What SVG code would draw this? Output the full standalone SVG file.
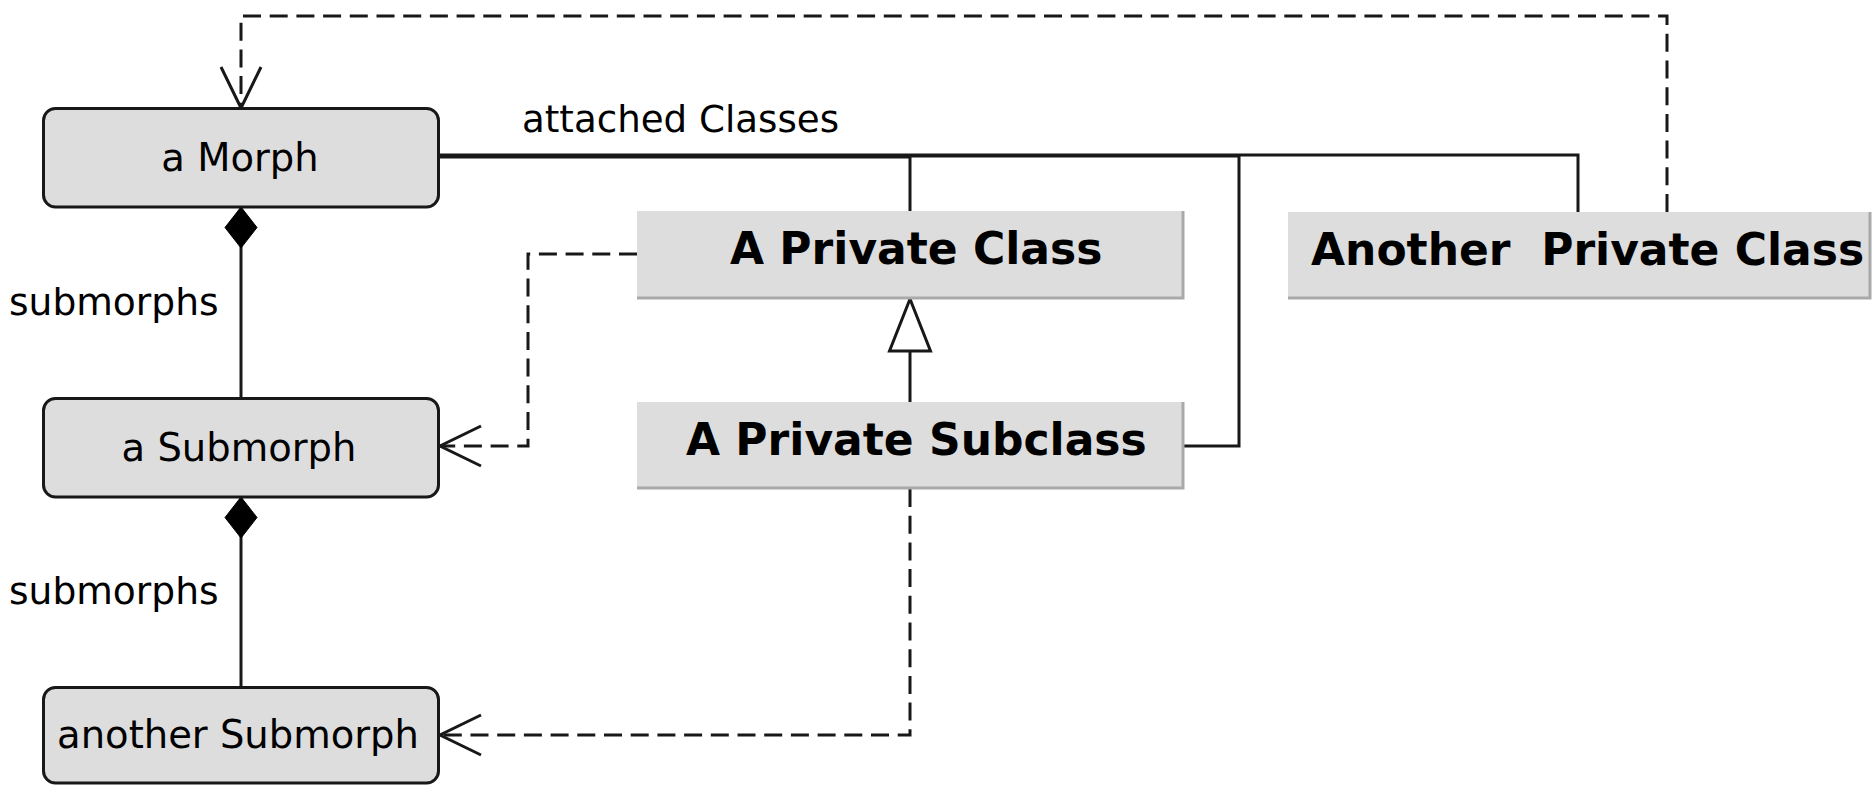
<svg xmlns="http://www.w3.org/2000/svg" width="1872" height="785" viewBox="0 0 1872 785">
  <style>
    .morph { fill: #dddddd; stroke: #181818; stroke-width: 3; }
    .cls { fill: #dddddd; }
    .shadow { fill: none; stroke: #a9a9a9; stroke-width: 3; }
    .lbl { font-family: "DejaVu Sans", "Liberation Sans", sans-serif; font-size: 38.5px; fill: #000000; }
    .edge { font-family: "DejaVu Sans", "Liberation Sans", sans-serif; font-size: 37.6px; fill: #000000; }
    .name { font-family: "DejaVu Sans", "Liberation Sans", sans-serif; font-size: 44px; font-weight: bold; fill: #000000; white-space: pre; }
    .solid { fill: none; stroke: #181818; stroke-width: 3; }
    .dashed { fill: none; stroke: #181818; stroke-width: 3; stroke-dasharray: 18 8.7; }
  </style>
  <defs>
    <marker id="open" viewBox="-46 -24 50 48" refX="0" refY="0" markerWidth="50" markerHeight="48" markerUnits="userSpaceOnUse" orient="auto">
      <path d="M-41,-20 L0,0 L-41,20" fill="none" stroke="#181818" stroke-width="3" stroke-dasharray="none"/>
    </marker>
    <marker id="diamond" viewBox="-3 -19 47 38" refX="0" refY="0" markerWidth="47" markerHeight="38" markerUnits="userSpaceOnUse" orient="auto">
      <path d="M0,0 L20.5,-16 L41,0 L20.5,16 Z" fill="#000000" stroke="#000000" stroke-width="1"/>
    </marker>
    <marker id="triangle" viewBox="-56 -24 60 48" refX="0" refY="0" markerWidth="60" markerHeight="48" markerUnits="userSpaceOnUse" orient="auto">
      <path d="M0,0 L-52,-20.5 L-52,20.5 Z" fill="#ffffff" stroke="#181818" stroke-width="3" stroke-linejoin="miter"/>
    </marker>
  </defs>

  <!-- connectors -->
  <g id="connectors">
    <!-- attached classes from a Morph -->
    <path class="solid" d="M438,157 H910 V212"/>
    <path class="solid" d="M438,156 H1239 V446 H1184"/>
    <path class="solid" d="M438,155 H1578 V212"/>
    <!-- submorph compositions -->
    <path class="solid" d="M241,207 V398" marker-start="url(#diamond)"/>
    <path class="solid" d="M241,497 V687" marker-start="url(#diamond)"/>
    <!-- generalization -->
    <path class="solid" d="M910,403 V299" marker-end="url(#triangle)"/>
    <!-- dependencies -->
    <path class="dashed" d="M1667,212 V16 H241 V108" marker-end="url(#open)"/>
    <path class="dashed" d="M637,254 H528 V446 H440" marker-end="url(#open)"/>
    <path class="dashed" d="M910,489 V735 H440" marker-end="url(#open)"/>
  </g>

  <text class="edge" x="522" y="132" textLength="317" lengthAdjust="spacingAndGlyphs">attached Classes</text>
  <text class="edge" x="9" y="315">submorphs</text>
  <text class="edge" x="9" y="604">submorphs</text>

  <g id="a-morph">
    <rect class="morph" x="43.5" y="108.5" width="395" height="98.5" rx="12"/>
    <text class="lbl" x="240" y="171" text-anchor="middle">a Morph</text>
  </g>
  <g id="a-submorph">
    <rect class="morph" x="43.5" y="398.5" width="395" height="98.5" rx="12"/>
    <text class="lbl" x="239" y="461" text-anchor="middle">a Submorph</text>
  </g>
  <g id="another-submorph">
    <rect class="morph" x="43.5" y="687.5" width="395" height="95.5" rx="12"/>
    <text class="lbl" x="238" y="748" text-anchor="middle">another Submorph</text>
  </g>

  <g id="a-private-class">
    <rect class="cls" x="637" y="211" width="546" height="87"/>
    <path class="shadow" d="M1183,211 V298 H637"/>
    <text class="name" x="730" y="264">A Private Class</text>
  </g>
  <g id="a-private-subclass">
    <rect class="cls" x="637" y="402" width="546" height="86"/>
    <path class="shadow" d="M1183,402 V488 H637"/>
    <text class="name" x="686" y="455">A Private Subclass</text>
  </g>
  <g id="another-private-class">
    <rect class="cls" x="1288" y="212" width="582" height="86"/>
    <path class="shadow" d="M1870,212 V298 H1288"/>
    <text class="name" x="1311" y="265">Another  Private Class</text>
  </g>
</svg>
